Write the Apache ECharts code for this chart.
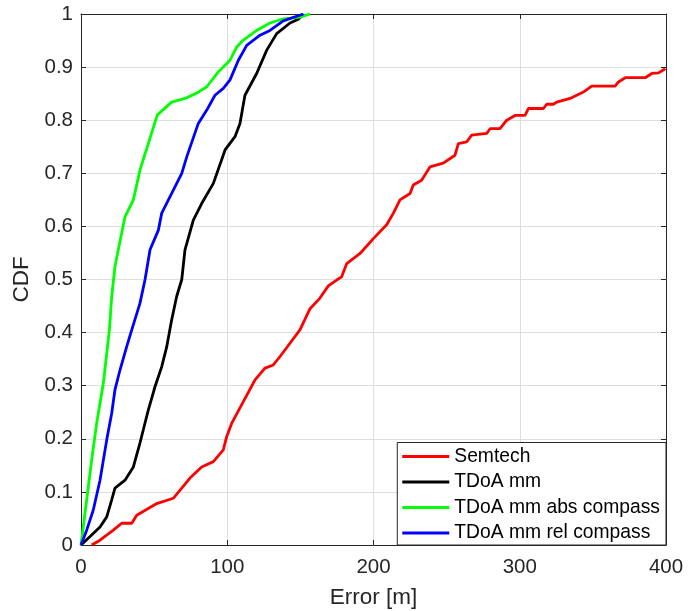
<!DOCTYPE html>
<html>
<head>
<meta charset="utf-8">
<script src="https://cdn.jsdelivr.net/npm/echarts@6/dist/echarts.min.js"></script>
<style>
html,body{margin:0;padding:0;background:#fff;}
#chart{width:699px;height:611px;}
</style>
</head>
<body>
<div id="chart"></div>
<script>
// ---- data ----
var seriesNames = ['Semtech', 'TDoA mm', 'TDoA mm abs compass', 'TDoA mm rel compass'];
var xTicks = [0, 100, 200, 300, 400];
var yTicks = [0, 0.1, 0.2, 0.3, 0.4, 0.5, 0.6, 0.7, 0.8, 0.9, 1];

var semtech = [
  [7.3,0],[13,0.009],[22.1,0.028],[27.8,0.041],[34.7,0.041],[38.1,0.056],[51.8,0.078],[63.1,0.088],
  [74.5,0.126],[82.5,0.147],[90.5,0.157],[97.3,0.179],[99.6,0.204],[103,0.229],[111,0.27],
  [119,0.311],[125.8,0.333],[131.5,0.339],[136.1,0.355],[142.9,0.38],[149.7,0.405],[156.6,0.445],
  [163.4,0.465],[169.1,0.488],[174.8,0.499],[178.2,0.505],[181.7,0.53],[190.8,0.549],[199.9,0.577],
  [209,0.603],[213.6,0.625],[218.1,0.65],[225,0.662],[227.2,0.678],[232.9,0.687],[238.6,0.712],
  [247.7,0.719],[255.7,0.734],[258,0.756],[263.7,0.759],[267.1,0.772],[277.4,0.775],[279.7,0.784],
  [286.5,0.784],[291.1,0.8],[296.8,0.809],[303.6,0.809],[305.9,0.822],[316.2,0.822],[318.4,0.83],
  [323,0.83],[325.3,0.834],[334.4,0.841],[343.5,0.853],[349.2,0.864],[365.2,0.864],[367.5,0.872],
  [372.1,0.88],[385.8,0.88],[390.3,0.888],[394.9,0.889],[399.5,0.897]
];
var tdoaMm = [
  [0,0],[6.2,0.016],[13,0.034],[17.6,0.053],[21,0.085],[23.2,0.107],[30.1,0.122],[35.8,0.147],
  [40.3,0.192],[42.6,0.217],[46,0.254],[50.6,0.298],[55.2,0.336],[58.6,0.373],[62,0.424],
  [65.4,0.468],[68.9,0.5],[71.1,0.556],[76.8,0.612],[82.5,0.643],[90.5,0.681],[98.5,0.744],
  [105.3,0.769],[108.7,0.794],[112.1,0.847],[120.1,0.888],[127,0.932],[133.8,0.963],[142.9,0.983],
  [148.6,0.99],[152,1]
];
var tdoaAbs = [
  [0,0],[7.3,0.16],[10.7,0.229],[15.3,0.305],[19.4,0.405],[21,0.468],[23.2,0.524],[25.5,0.556],
  [30.1,0.618],[35.8,0.65],[40.3,0.706],[46,0.756],[52.2,0.81],[62,0.834],[71.1,0.841],[79.1,0.851],
  [86,0.863],[93.9,0.891],[101.9,0.913],[106.5,0.938],[111,0.951],[120.1,0.969],[129.2,0.983],
  [138.3,0.991],[149.7,0.994],[156.6,1]
];
var tdoaRel = [
  [0,0],[3.9,0.028],[8.4,0.066],[13,0.122],[17.6,0.198],[21,0.248],[23.2,0.292],[26.7,0.33],
  [31.2,0.373],[34.7,0.405],[40.3,0.455],[43.8,0.5],[47.2,0.556],[52.9,0.593],[55.2,0.625],
  [62,0.662],[68.9,0.7],[72.3,0.731],[80.2,0.794],[86,0.819],[91.6,0.847],[97.3,0.86],[101.9,0.876],
  [107.6,0.913],[113.3,0.941],[122.4,0.96],[129.2,0.969],[138.3,0.987],[152,1]
];
var seriesData = [semtech, tdoaMm, tdoaAbs, tdoaRel];
var seriesColors = ['#ff0000', '#000000', '#00ff00', '#0000ff'];

// ---- chart ----
var chart = echarts.init(document.getElementById('chart'), null, {renderer: 'canvas'});
var axisColor = '#262626';
var gridColor = '#dedede';
var font = 'Liberation Sans, Arial, Helvetica, sans-serif';

function baseX(extra) {
  return Object.assign({
    type: 'value', min: xTicks[0], max: xTicks[xTicks.length - 1], interval: xTicks[1] - xTicks[0],
    axisLine: {show: true, onZero: false, lineStyle: {color: axisColor, width: 1}},
    axisTick: {show: true, inside: true, length: 5, lineStyle: {color: axisColor}},
    splitLine: {show: false}
  }, extra);
}
function baseY(extra) {
  return Object.assign({
    type: 'value', min: yTicks[0], max: yTicks[yTicks.length - 1], interval: 0.1,
    axisLine: {show: true, onZero: false, lineStyle: {color: axisColor, width: 1}},
    axisTick: {show: true, inside: true, length: 5, lineStyle: {color: axisColor}},
    splitLine: {show: false}
  }, extra);
}

var option = {
  backgroundColor: '#ffffff',
  animation: false,
  textStyle: {fontFamily: font},
  grid: {left: 81, top: 14, width: 585, height: 531, outerBoundsMode: 'none', containLabel: false},
  xAxis: [
    baseX({
      position: 'bottom',
      name: 'Error [m]', nameLocation: 'middle', nameGap: 41,
      nameTextStyle: {color: axisColor, fontSize: 22.5, fontFamily: font},
      axisLabel: {show: true, color: axisColor, fontSize: 20.5, margin: 12, fontFamily: font},
      splitLine: {show: true, lineStyle: {color: gridColor, width: 1}}
    }),
    baseX({position: 'top', axisLabel: {show: false}})
  ],
  yAxis: [
    baseY({
      position: 'left',
      name: 'CDF', nameLocation: 'middle', nameGap: 47,
      nameTextStyle: {color: axisColor, fontSize: 22.5, fontFamily: font},
      axisLabel: {show: true, color: axisColor, fontSize: 20.5, margin: 8, fontFamily: font,
        formatter: function (v) { return String(Math.round(v * 10) / 10); }},
      splitLine: {show: true, lineStyle: {color: gridColor, width: 1}}
    }),
    baseY({position: 'right', axisLabel: {show: false}})
  ],
  legend: {
    orient: 'vertical',
    right: 33, bottom: 66,
    backgroundColor: '#ffffff',
    borderColor: axisColor, borderWidth: 1, borderRadius: 0,
    padding: [4, 6, 2, 5],
    itemGap: 5.5,
    itemWidth: 47, itemHeight: 3,
    icon: 'rect',
    align: 'left',
    textStyle: {color: '#000000', fontSize: 19.3, lineHeight: 20, fontFamily: font},
    data: seriesNames
  },
  series: seriesNames.map(function (n, i) {
    return {
      name: n, type: 'line', xAxisIndex: 0, yAxisIndex: 0,
      data: seriesData[i], showSymbol: false, symbol: 'none',
      color: seriesColors[i],
      lineStyle: {color: seriesColors[i], width: 2.8},
      z: 3 + i
    };
  })
};
chart.setOption(option);
</script>
</body>
</html>
